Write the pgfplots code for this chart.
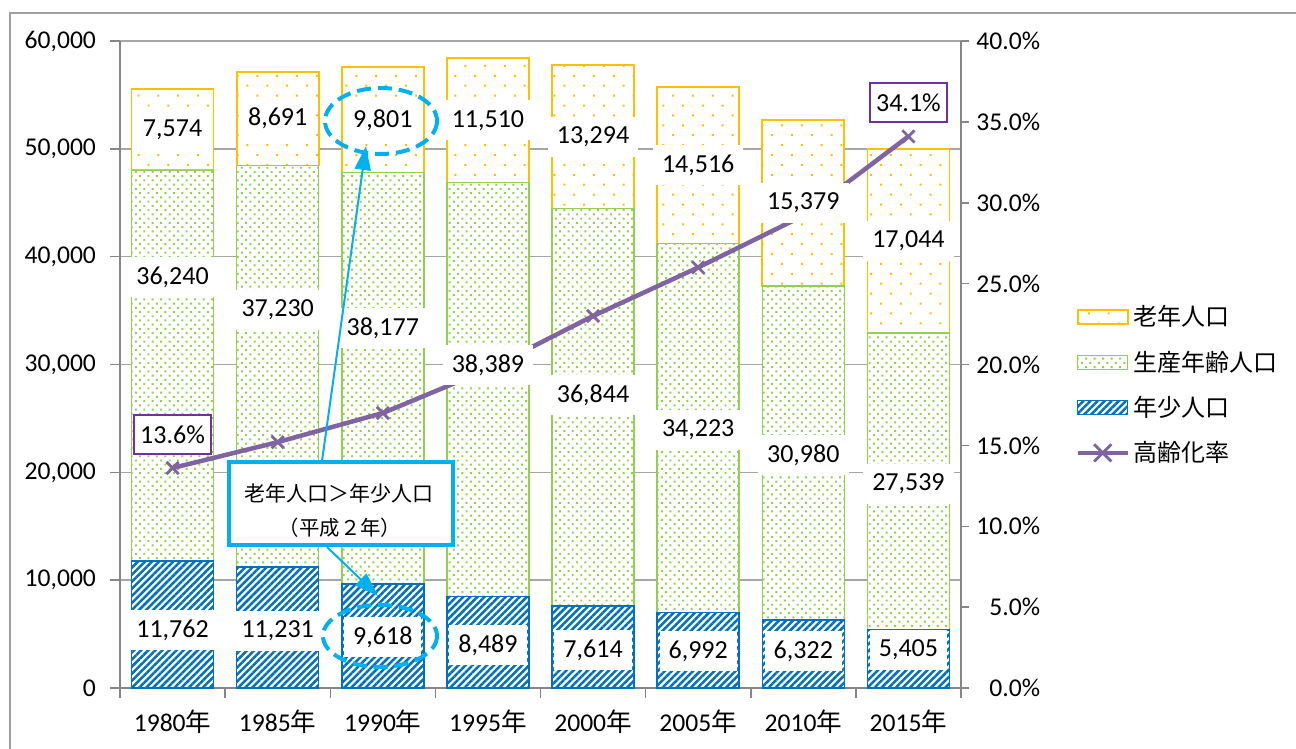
\documentclass[border=0pt]{standalone}
\usepackage{pgfplots}
\pgfplotsset{compat=1.18}
\usetikzlibrary{patterns.meta,arrows.meta}
\usepackage{fontspec}
\setmainfont{Carlito}
\newfontfamily\cjk{Noto Sans CJK JP}

\definecolor{roujin}{HTML}{FFC000}
\definecolor{seisan}{HTML}{92D050}
\definecolor{nenshou}{HTML}{0070C0}
\definecolor{ritsu}{HTML}{8064A2}
\definecolor{labpurple}{HTML}{7030A0}
\definecolor{callout}{HTML}{00B0F0}
\definecolor{axisgray}{HTML}{868686}
\definecolor{gridgray}{HTML}{A6A6A6}
\definecolor{framegray}{HTML}{A0A0A0}

% population by age group (persons)
\pgfplotstableread{
x  young  working  old
0  11762  36240    7574
1  11231  37230    8691
2  9618   38177    9801
3  8489   38389    11510
4  7614   36844    13294
5  6992   34223    14516
6  6322   30980    15379
7  5405   27539    17044
}\poptable

\tikzset{
  youngfill/.style={fill=white, draw=nenshou, line width=0.8pt,
    postaction={pattern={Lines[angle=45,distance=2.5pt,line width=1.25pt]}, pattern color=nenshou}},
  workingfill/.style={fill=white, draw=seisan, line width=0.8pt,
    postaction={pattern={Dots[angle=45,distance=3pt,radius=0.7pt]}, pattern color=seisan}},
  oldfill/.style={fill=white, draw=roujin, line width=0.9pt,
    postaction={pattern={Dots[angle=45,distance=7pt,radius=0.7pt]}, pattern color=roujin}},
  vallabel/.style={fill=white, inner xsep=4.5pt, inner ysep=0pt, minimum height=20pt, font=\fontsize{13}{15}\selectfont},
  pctlabel/.style={fill=white, draw=labpurple, line width=0.6pt, minimum width=38.5pt, minimum height=19.5pt, inner sep=0pt, font=\fontsize{13}{15}\selectfont},
}

\pgfplotsset{
  commonaxis/.style={
    at={(SW)}, anchor=south west, scale only axis,
    width=420.5pt, height=323.5pt,
    xmin=-0.5, xmax=7.5,
    clip=false,
    tick label style={font=\fontsize{12.8}{15}\selectfont},
    /pgf/number format/assume math mode=true,
  },
}

\begin{document}
\begin{tikzpicture}[x=0.5pt,y=-0.5pt]
\useasboundingbox (0,0) rectangle (1296,749);
\draw[framegray, line width=1.1pt] (10,749) -- (10,13) -- (1296,13);
\coordinate (SW) at (120,688);

% stacked bars, left axis
\begin{axis}[commonaxis,
  ymin=0, ymax=60000,
  ybar stacked, bar width=41pt,
  axis x line*=bottom, axis y line*=left,
  axis line style={axisgray, line width=0.75pt},
  tick style={axisgray, line width=0.75pt},
  tick align=outside, major tick length=5pt,
  xtick={-0.5,0.5,...,7.5}, xticklabels={},
  extra x ticks={0,...,7},
  extra x tick labels={1980{\cjk 年},1985{\cjk 年},1990{\cjk 年},1995{\cjk 年},2000{\cjk 年},2005{\cjk 年},2010{\cjk 年},2015{\cjk 年}},
  extra x tick style={major tick length=0pt, grid=none, xticklabel style={yshift=-7.5pt}},
  ytick={0,10000,...,60000},
  scaled y ticks=false,
  ymajorgrids, grid style={gridgray, line width=0.75pt},
  yticklabel style={xshift=-3.5pt},
  /pgf/number format/.cd, fixed, 1000 sep={,},
]
\addplot[youngfill] table[x=x, y=young] {\poptable};
\addplot[workingfill] table[x=x, y=working] {\poptable};
\addplot[oldfill] table[x=x, y=old] {\poptable};
\end{axis}

% ageing rate, right axis
\begin{axis}[commonaxis,
  ymin=0, ymax=40,
  axis x line=none, axis y line*=right,
  axis line style={axisgray, line width=0.75pt},
  tick style={axisgray, line width=0.75pt},
  tick align=outside, major tick length=4pt,
  ytick={0,5,...,40},
  yticklabel={\pgfmathprintnumber[fixed,fixed zerofill,precision=1]{\tick}\%},
  yticklabel style={anchor=west, align=right, text width=32pt},
  legend cell align=left,
  legend style={draw=none, fill=none, inner sep=0pt, row sep=7pt,
    at={(1.1356,0.598)}, anchor=north west,
    font=\fontsize{12}{14}\selectfont\cjk},
]
\addlegendimage{legend image code/.code={\draw[oldfill] (0pt,-3.5pt) rectangle (25pt,3.5pt);}}
\addlegendentry{老年人口}
\addlegendimage{legend image code/.code={\draw[workingfill] (0pt,-3.5pt) rectangle (25pt,3.5pt);}}
\addlegendentry{生産年齢人口}
\addlegendimage{legend image code/.code={\draw[youngfill] (0pt,-3.5pt) rectangle (25pt,3.5pt);}}
\addlegendentry{年少人口}
\addplot[ritsu, line width=2.25pt, mark=x, mark size=4.3pt, mark options={line width=1.4pt},
  legend image code/.code={\draw[ritsu, line width=2.25pt] (0pt,0pt) -- (25pt,0pt);
    \draw[ritsu, line width=1.4pt] (8.2pt,-4.3pt) -- (16.8pt,4.3pt) (8.2pt,4.3pt) -- (16.8pt,-4.3pt);}]
  coordinates {(0,13.6) (1,15.2) (2,17.0) (3,19.7) (4,23.0) (5,26.0) (6,29.2) (7,34.1)};
\addlegendentry{高齢化率}
\node[pctlabel] at (axis cs:0,15.67) {13.6\%};
\node[pctlabel] at (axis cs:7,36.2) {34.1\%};
\end{axis}

% value labels on top of bars and line
\begin{axis}[commonaxis, ymin=0, ymax=60000, hide axis]
\foreach \xx/\yy/\tt in {0/5379/{11,762},1/5286/{11,231},2/4730/{9,618},3/3988/{8,489},
                         4/3525/{7,614},5/3431/{6,992},6/3431/{6,322},7/3525/{5,405}}
  {\edef\temp{\noexpand\node[vallabel] at (axis cs:\xx,\yy) {\tt};}\temp}
\foreach \xx/\yy/\tt in {0/38114/{36,240},1/35054/{37,230},2/33385/{38,177},3/29954/{38,389},
                         4/27172/{36,844},5/23926/{34,223},6/21607/{30,980},7/18918/{27,539}}
  {\edef\temp{\noexpand\node[vallabel] at (axis cs:\xx,\yy) {\tt};}\temp}
\foreach \xx/\yy/\tt in {0/51789/{7,574},1/52806/{8,691},2/52695/{9,801},3/52633/{11,510},
                         4/51105/{13,294},5/48473/{14,516},6/44991/{15,379},7/41466/{17,044}}
  {\edef\temp{\noexpand\node[vallabel] at (axis cs:\xx,\yy) {\tt};}\temp}
\end{axis}

% callout
\draw[callout, line width=1pt, -{Triangle[length=12pt,width=8pt]}] (322,461) -- (366,146);
\draw[callout, line width=1pt, -{Triangle[length=12pt,width=8pt]}] (327,547) -- (378,596);
\draw[callout, line width=2pt, dash pattern=on 7pt off 3.5pt] (381,121) ellipse [x radius=56, y radius=33];
\draw[callout, line width=2pt, dash pattern=on 7pt off 3.5pt] (380,636) ellipse [x radius=57, y radius=31];
\node[draw=callout, line width=2pt, fill=white, minimum width=112pt, minimum height=41.5pt, inner sep=0pt] at (341,503.5) {};
\node[font=\fontsize{10.5}{12}\selectfont\cjk] at (339,493) {老年人口＞年少人口};
\node[font=\fontsize{10.2}{12}\selectfont\cjk] at (340,528) {（平成２年）};
\end{tikzpicture}
\end{document}
